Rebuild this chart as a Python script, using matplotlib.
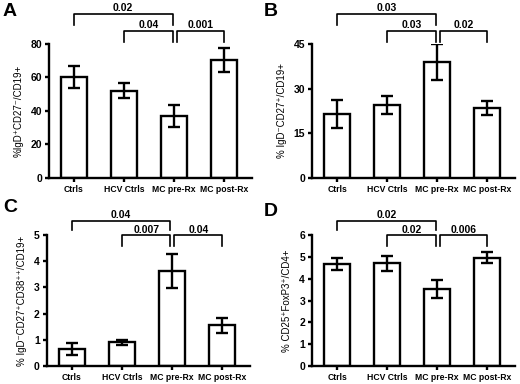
import matplotlib
matplotlib.use("Agg")
import matplotlib.pyplot as plt
from matplotlib.transforms import blended_transform_factory

plt.rcParams["font.family"] = ["Liberation Sans", "DejaVu Sans"]

GROUPS = ["Ctrls", "HCV Ctrls", "MC pre-Rx", "MC post-Rx"]

a_vals = [60.5, 52.0, 37.0, 70.5]
a_err = [6.5, 4.5, 6.3, 7.3]
b_vals = [21.5, 24.5, 39.0, 23.5]
b_err = [4.8, 3.0, 6.0, 2.5]
c_vals = [0.65, 0.90, 3.62, 1.55]
c_err = [0.23, 0.10, 0.65, 0.28]
d_vals = [4.68, 4.70, 3.52, 4.97]
d_err = [0.28, 0.35, 0.42, 0.27]

a_p = ["0.02", "0.04", "0.001"]
b_p = ["0.03", "0.03", "0.02"]
c_p = ["0.04", "0.007", "0.04"]
d_p = ["0.02", "0.02", "0.006"]

LW = 1.7


def bracket(ax, x0, x1, y, tip, label, label_y):
    tr = blended_transform_factory(ax.transData, ax.transAxes)
    ax.plot([x0, x0, x1, x1], [tip, y, y, tip], color="black", lw=1.2,
            transform=tr, clip_on=False)
    ax.text((x0 + x1) / 2, label_y, label, transform=tr, ha="center",
            va="center", fontsize=7.5, fontweight="bold")


def panel(rect, vals, errs, pvals, ylim, yticks, ylabel, letter, letter_pos, levels):
    ax = fig.add_axes(rect)
    x = range(len(GROUPS))
    ax.bar(x, vals, width=0.52, color="white", edgecolor="black", linewidth=LW)
    ax.errorbar(x, vals, yerr=errs, fmt="none", ecolor="black",
                elinewidth=LW, capsize=4.5, capthick=LW)
    ax.set_xlim(-0.5, 3.55)
    ax.set_ylim(*ylim)
    ax.set_yticks(yticks)
    ax.set_xticks(list(x))
    ax.set_xticklabels(GROUPS, fontsize=6.2, fontweight="bold")
    ax.tick_params(axis="y", labelsize=7.5, width=LW, length=3, pad=2)
    ax.tick_params(axis="x", width=LW, length=3, pad=2)
    for lab in ax.get_yticklabels():
        lab.set_fontweight("bold")
    for s in ["top", "right"]:
        ax.spines[s].set_visible(False)
    for s in ["left", "bottom"]:
        ax.spines[s].set_linewidth(LW)
    ax.set_ylabel(ylabel, fontsize=7, labelpad=5)

    top, top_tip, top_lab, low, low_tip, low_lab = levels
    bracket(ax, 0, 1.97, top, top_tip, pvals[0], top_lab)
    bracket(ax, 1, 1.97, low, low_tip, pvals[1], low_lab)
    bracket(ax, 2.05, 3, low, low_tip, pvals[2], low_lab)
    fig.text(letter_pos[0] / 520, 1 - letter_pos[1] / 384, letter,
             fontsize=14, fontweight="bold", va="center", ha="left")
    return ax


fig = plt.figure(figsize=(5.2, 3.84), dpi=100)

levels_top = (1.224, 1.145, 1.27, 1.10, 1.015, 1.145)
levels_bot = (1.11, 1.038, 1.155, 1.0, 0.916, 1.038)

panel([0.094, 0.5365, 0.39, 0.349], a_vals, a_err, a_p, (0, 80),
      [0, 20, 40, 60, 80], "%IgD\u207aCD27\u207b/CD19+", "A", (3, 12), levels_top)
panel([0.600, 0.5365, 0.39, 0.349], b_vals, b_err, b_p, (0, 45),
      [0, 15, 30, 45], "% IgD\u207bCD27\u207a/CD19+", "B", (264, 12), levels_top)
panel([0.090, 0.0469, 0.39, 0.341], c_vals, c_err, c_p, (0, 5),
      [0, 1, 2, 3, 4, 5], "% IgD\u207bCD27\u207aCD38\u207a\u207a/CD19+", "C", (3, 208), levels_bot)
panel([0.600, 0.0469, 0.39, 0.341], d_vals, d_err, d_p, (0, 6),
      [0, 1, 2, 3, 4, 5, 6], "% CD25\u207aFoxP3\u207a/CD4+", "D", (264, 211), levels_bot)

fig.savefig("out.png", dpi=100)
